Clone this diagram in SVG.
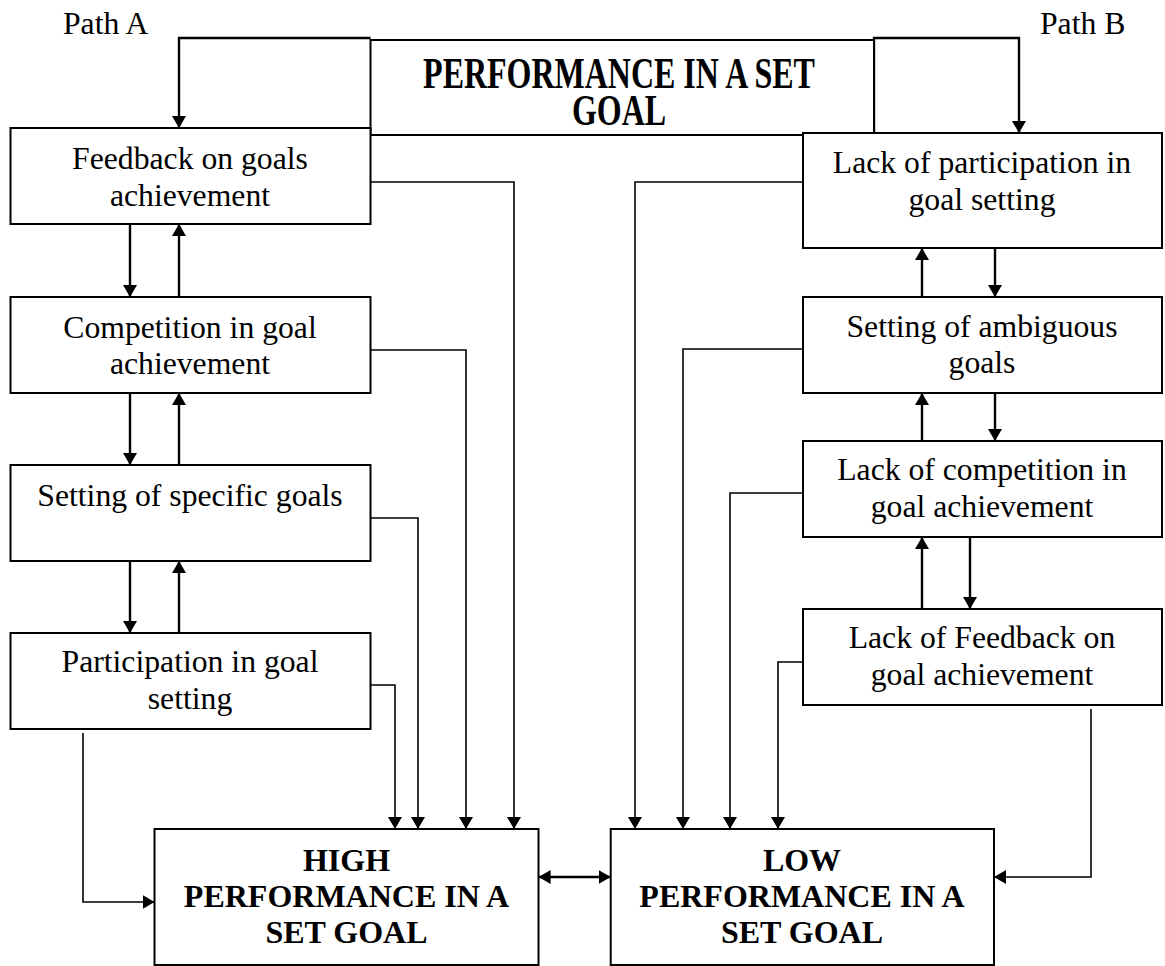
<svg xmlns="http://www.w3.org/2000/svg" width="1165" height="966" viewBox="0 0 1165 966">
<defs>
<marker id="ah" viewBox="0 0 12 14" refX="12" refY="7" markerWidth="12" markerHeight="14" markerUnits="userSpaceOnUse" orient="auto">
<path d="M0,0 L12,7 L0,14 Z" fill="#000"/>
</marker>
<marker id="ahs" viewBox="0 0 12 14" refX="0" refY="7" markerWidth="12" markerHeight="14" markerUnits="userSpaceOnUse" orient="auto">
<path d="M12,0 L0,7 L12,14 Z" fill="#000"/>
</marker>
</defs>
<style>
.box{fill:#fff;stroke:#000;stroke-width:2}
.t{font-family:"Liberation Serif","Times New Roman",serif;font-size:31.7px;fill:#000;text-anchor:middle}
.b{font-weight:bold;font-size:32px}
.lbl{font-family:"Liberation Serif","Times New Roman",serif;font-size:31.7px;fill:#000}
.c{fill:none;stroke:#000;stroke-width:1.6}
.a{fill:none;stroke:#000;stroke-width:2.4}
</style>
<rect width="1165" height="966" fill="#fff"/>
<text class="lbl" x="63" y="34">Path A</text>
<text class="lbl" x="1040" y="34">Path B</text>

<g id="connectors">
<polyline class="a" points="370.5,38 179,38 179,128" marker-end="url(#ah)"/>
<polyline class="a" points="874,135 874,38 1019,38 1019,133" marker-end="url(#ah)"/>
<line class="a" x1="130" y1="224" x2="130" y2="297" marker-end="url(#ah)"/>
<line class="a" x1="179" y1="297" x2="179" y2="224" marker-end="url(#ah)"/>
<line class="a" x1="130" y1="393" x2="130" y2="465" marker-end="url(#ah)"/>
<line class="a" x1="179" y1="465" x2="179" y2="393" marker-end="url(#ah)"/>
<line class="a" x1="130" y1="561" x2="130" y2="633" marker-end="url(#ah)"/>
<line class="a" x1="179" y1="633" x2="179" y2="561" marker-end="url(#ah)"/>
<line class="a" x1="922" y1="297" x2="922" y2="248" marker-end="url(#ah)"/>
<line class="a" x1="995" y1="248" x2="995" y2="297" marker-end="url(#ah)"/>
<line class="a" x1="922" y1="441" x2="922" y2="393" marker-end="url(#ah)"/>
<line class="a" x1="995" y1="393" x2="995" y2="441" marker-end="url(#ah)"/>
<line class="a" x1="922" y1="609" x2="922" y2="537" marker-end="url(#ah)"/>
<line class="a" x1="970" y1="537" x2="970" y2="609" marker-end="url(#ah)"/>
<polyline class="c" points="370.5,182 514,182 514,829" marker-end="url(#ah)"/>
<polyline class="c" points="371,350 466,350 466,829" marker-end="url(#ah)"/>
<polyline class="c" points="371,518 418,518 418,829" marker-end="url(#ah)"/>
<polyline class="c" points="371,685 395,685 395,829" marker-end="url(#ah)"/>
<polyline class="c" points="83,733 83,902 154.5,902" marker-end="url(#ah)"/>
<polyline class="c" points="803,182 635,182 635,829" marker-end="url(#ah)"/>
<polyline class="c" points="803,349 683,349 683,829" marker-end="url(#ah)"/>
<polyline class="c" points="803,493 730,493 730,829" marker-end="url(#ah)"/>
<polyline class="c" points="803,662 778,662 778,829" marker-end="url(#ah)"/>
<polyline class="c" points="1091,709 1091,877 994,877" marker-end="url(#ah)"/>
<line class="a" x1="538.6" y1="877" x2="610.7" y2="877" marker-start="url(#ahs)" marker-end="url(#ah)"/>
</g>

<g id="n-top">
<rect class="box" x="370.5" y="40" width="503.5" height="95"/>
<text class="t b" font-size="31.5" transform="translate(619,88) scale(1,1.4)">PERFORMANCE IN A SET</text>
<text class="t b" font-size="31.5" transform="translate(619,125) scale(1,1.4)">GOAL</text>
</g>
<g id="n-feedback">
<rect class="box" x="10.5" y="128" width="360" height="96"/>
<text class="t" x="190" y="169">Feedback on goals</text>
<text class="t" x="190" y="206">achievement</text>
</g>
<g id="n-competition">
<rect class="box" x="10.5" y="297" width="360" height="96"/>
<text class="t" x="190" y="338">Competition in goal</text>
<text class="t" x="190" y="374">achievement</text>
</g>
<g id="n-specific">
<rect class="box" x="10.5" y="465" width="360" height="96"/>
<text class="t" x="190" y="506">Setting of specific goals</text>
</g>
<g id="n-participation">
<rect class="box" x="10.5" y="633" width="360" height="96"/>
<text class="t" x="190" y="672">Participation in goal</text>
<text class="t" x="190" y="709">setting</text>
</g>
<g id="n-lackpart">
<rect class="box" x="803" y="133" width="359" height="115"/>
<text class="t" x="982" y="173">Lack of participation in</text>
<text class="t" x="982" y="210">goal setting</text>
</g>
<g id="n-ambiguous">
<rect class="box" x="803" y="297" width="359" height="96"/>
<text class="t" x="982" y="337">Setting of ambiguous</text>
<text class="t" x="982" y="373">goals</text>
</g>
<g id="n-lackcomp">
<rect class="box" x="803" y="441" width="359" height="96"/>
<text class="t" x="982" y="480">Lack of competition in</text>
<text class="t" x="982" y="517">goal achievement</text>
</g>
<g id="n-lackfeedback">
<rect class="box" x="803" y="609" width="359" height="96"/>
<text class="t" x="982" y="648">Lack of Feedback on</text>
<text class="t" x="982" y="685">goal achievement</text>
</g>
<g id="n-high">
<rect class="box" x="154.5" y="829" width="384" height="136"/>
<text class="t b" x="346.5" y="871">HIGH</text>
<text class="t b" x="346.5" y="907">PERFORMANCE IN A</text>
<text class="t b" x="346.5" y="943">SET GOAL</text>
</g>
<g id="n-low">
<rect class="box" x="610.7" y="829" width="383.3" height="136"/>
<text class="t b" x="802" y="871">LOW</text>
<text class="t b" x="802" y="907">PERFORMANCE IN A</text>
<text class="t b" x="802" y="943">SET GOAL</text>
</g>
</svg>
